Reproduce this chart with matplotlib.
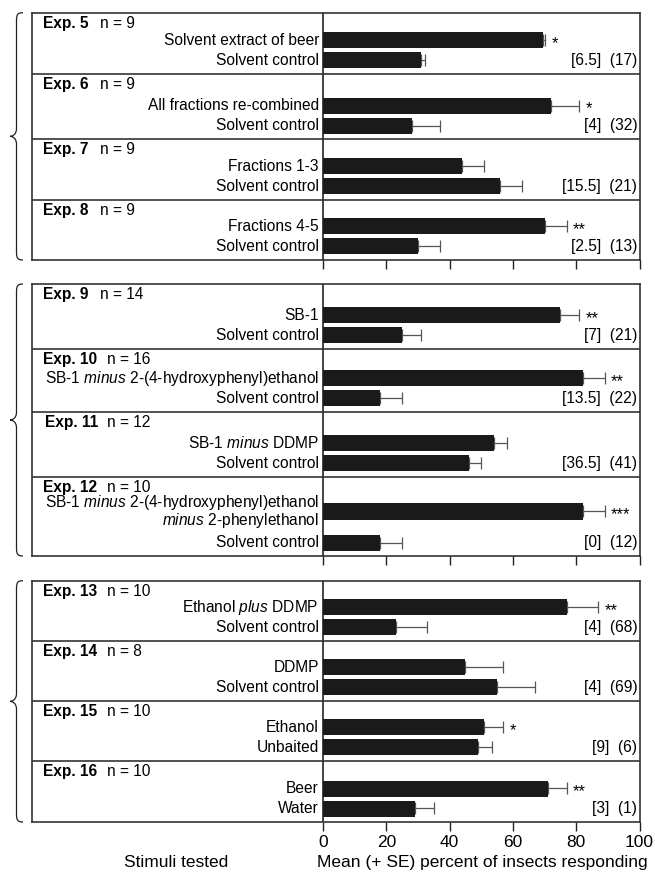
import matplotlib
matplotlib.use("Agg")
import matplotlib.pyplot as plt
from matplotlib.path import Path
from matplotlib.patches import PathPatch

plt.rcParams['font.family'] = ['Liberation Sans', 'DejaVu Sans']
plt.rcParams['mathtext.fontset'] = 'custom'
plt.rcParams['mathtext.rm'] = 'Liberation Sans'
plt.rcParams['mathtext.it'] = 'Liberation Sans:italic'

# data
experiments = ['Exp. 5', 'Exp. 6', 'Exp. 7', 'Exp. 8',
               'Exp. 9', 'Exp. 10', 'Exp. 11', 'Exp. 12',
               'Exp. 13', 'Exp. 14', 'Exp. 15', 'Exp. 16']
n_values = [9, 9, 9, 9, 14, 16, 12, 10, 10, 8, 10, 10]
treatments = ['Solvent extract of beer', 'All fractions re-combined',
              'Fractions 1-3', 'Fractions 4-5', 'SB-1',
              r'SB-1 $\mathit{minus}$ 2-(4-hydroxyphenyl)ethanol',
              r'SB-1 $\mathit{minus}$ DDMP',
              'SB-1 $\\mathit{minus}$ 2-(4-hydroxyphenyl)ethanol\n$\\mathit{minus}$ 2-phenylethanol',
              r'Ethanol $\mathit{plus}$ DDMP', 'DDMP', 'Ethanol', 'Beer']
controls = ['Solvent control'] * 10 + ['Unbaited', 'Water']
treat_mean = [69.5, 72, 44, 70, 75, 82, 54, 82, 77, 45, 51, 71]
treat_se = [0.7, 9, 7, 7, 6, 7, 4, 7, 10, 12, 6, 6]
ctrl_mean = [31, 28, 56, 30, 25, 18, 46, 18, 23, 55, 49, 29]
ctrl_se = [1.2, 9, 7, 7, 6, 7, 4, 7, 10, 12, 4.5, 6]
stars = ['*', '*', '', '**', '**', '**', '', '***', '**', '', '*', '**']
brackets = ['[6.5]', '[4]', '[15.5]', '[2.5]', '[7]', '[13.5]',
            '[36.5]', '[0]', '[4]', '[4]', '[9]', '[3]']
parens = ['(17)', '(32)', '(21)', '(13)', '(21)', '(22)',
          '(41)', '(12)', '(68)', '(69)', '(6)', '(1)']
xticks = [0, 20, 40, 60, 80, 100]

# layout in pixels (figure 655 x 872)
W, H = 655, 872
group_tops = [12.7, 284, 580.7]
box_heights = [[61.3, 65.3, 60.7, 60], [65, 63, 65, 79], [60, 60, 60.3, 61]]
x_left_px, x0_px, x100_px, x_right_px = 32, 323, 639.5, 640
ppu = (x100_px - x0_px) / 100.0
xmin = -(x0_px - x_left_px) / ppu
xmax = (x_right_px - x0_px) / ppu

fig = plt.figure(figsize=(W / 100, H / 100), dpi=100)

fs = 11.2
bar_h = 16
k = 0
for g in range(3):
    heights = box_heights[g]
    gh = sum(heights)
    ax = fig.add_axes([x_left_px / W, 1 - (group_tops[g] + gh) / H,
                       (x_right_px - x_left_px) / W, gh / H])
    ax.set_xlim(xmin, xmax)
    ax.set_ylim(gh, 0)
    for s in ax.spines.values():
        s.set_linewidth(1.2)
        s.set_color('#333333')
    ax.set_yticks([])
    ax.set_xticks(xticks)
    ax.tick_params(axis='x', direction='out', length=6.5, width=1,
                   labelsize=12.5, pad=3, color='#222222')
    if g < 2:
        ax.set_xticklabels([])
    ax.axvline(0, color='#111111', lw=1.1)

    top = 0
    for i, bh in enumerate(heights):
        bottom = top + bh
        if i > 0:
            ax.axhline(top, color='#333333', lw=1.2)
        y_c = bottom - 13.5
        lines = treatments[k].split('\n')
        y_t = y_c - (31 if len(lines) > 1 else 20)

        ax.barh([y_t, y_c], [treat_mean[k], ctrl_mean[k]], height=bar_h,
                left=0, color='#1a1a1a', zorder=3)
        ax.errorbar([treat_mean[k], ctrl_mean[k]], [y_t, y_c],
                    xerr=[[0, 0], [treat_se[k], ctrl_se[k]]], fmt='none',
                    ecolor='#555555', elinewidth=0.9, capsize=4, capthick=0.9,
                    zorder=2)

        # header
        hx = -87.8 if experiments[k] == 'Exp. 11' else -88.6
        ax.text(hx, top + 10.5, experiments[k], fontsize=fs,
                fontweight='bold', va='center', ha='left')
        nx = -70.5 if len(experiments[k]) == 6 else -68.2
        ax.text(nx, top + 10.5, f'n = {n_values[k]}', fontsize=fs,
                va='center', ha='left')

        # stimulus labels (two-line label: baselines 17 px apart)
        if len(lines) > 1:
            for j, line in enumerate(lines):
                ax.text(-1.3, y_t - 4 + 17 * j, line, fontsize=fs,
                        ha='right', va='baseline')
        else:
            ax.text(-1.3, y_t, lines[0], fontsize=fs, ha='right',
                    va='center')
        ax.text(-1.3, y_c, controls[k], fontsize=fs, ha='right', va='center')

        # significance and counts
        if stars[k]:
            ax.text(treat_mean[k] + treat_se[k] + 2.0, y_t + 3, stars[k],
                    fontsize=12, ha='left', va='center')
        ax.text(99.3, y_c, f'{brackets[k]}  {parens[k]}', fontsize=fs,
                ha='right', va='center')
        top = bottom
        k += 1

    # left curly brace
    xe, xv, xt = (23 - x0_px) / ppu, (16.5 - x0_px) / ppu, (10 - x0_px) / ppu
    mid = gh / 2
    verts = [(xe, 0), (xv + 0.3, 0), (xv, 2), (xv, 8),
             (xv, mid - 8),
             (xv, mid - 1), (xt + 0.5, mid), (xt, mid),
             (xt + 0.5, mid), (xv, mid + 1), (xv, mid + 8),
             (xv, gh - 8),
             (xv, gh - 2), (xv + 0.3, gh), (xe, gh)]
    codes = ([Path.MOVETO] + [Path.CURVE4] * 3 + [Path.LINETO] +
             [Path.CURVE4] * 6 + [Path.LINETO] + [Path.CURVE4] * 3)
    ax.add_patch(PathPatch(Path(verts, codes), fill=False, lw=0.9,
                           edgecolor='#222222', clip_on=False))

fig.text(176 / W, 1 - 862 / H, 'Stimuli tested', fontsize=12.5,
         ha='center', va='center')
fig.text((x0_px + x100_px) / 2 / W + 1.5 / W, 1 - 862 / H,
         'Mean (+ SE) percent of insects responding', fontsize=12.5,
         ha='center', va='center')

fig.savefig('out.png', dpi=100)
